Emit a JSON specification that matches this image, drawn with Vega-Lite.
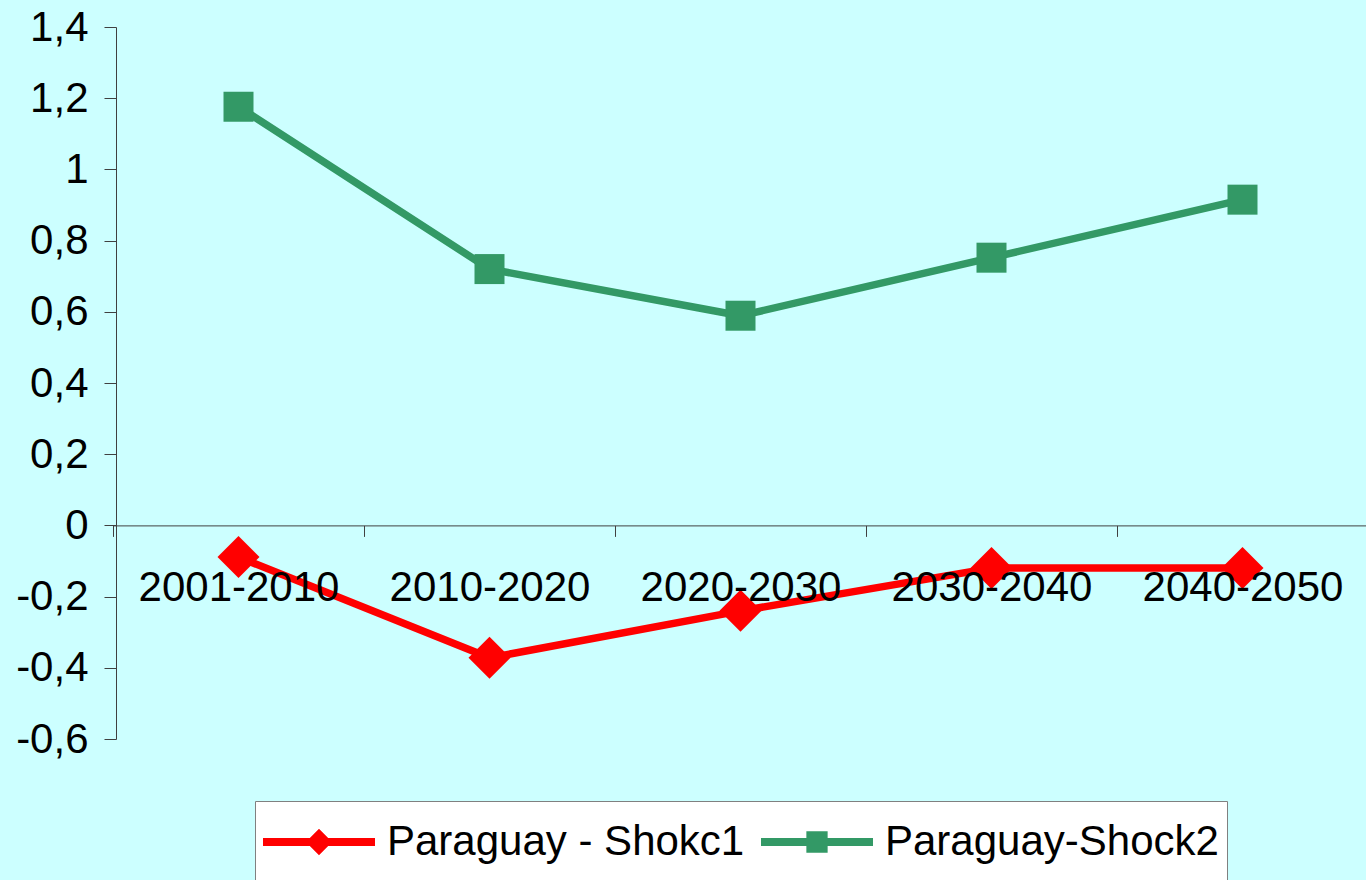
{
  "$schema": "https://vega.github.io/schema/vega-lite/v6.json",
  "autosize": {"type": "none"},
  "width": 1250,
  "height": 712,
  "padding": {"left": 116, "top": 27, "right": 0, "bottom": 141},
  "background": "#CCFFFF",
  "config": {"view": {"stroke": null}, "font": "Liberation Sans"},
  "data": {
    "values": [
      {"period": "2001-2010", "series": "Paraguay - Shokc1", "value": -0.089},
      {"period": "2010-2020", "series": "Paraguay - Shokc1", "value": -0.372},
      {"period": "2020-2030", "series": "Paraguay - Shokc1", "value": -0.24},
      {"period": "2030-2040", "series": "Paraguay - Shokc1", "value": -0.12},
      {"period": "2040-2050", "series": "Paraguay - Shokc1", "value": -0.12},
      {"period": "2001-2010", "series": "Paraguay-Shock2", "value": 1.176},
      {"period": "2010-2020", "series": "Paraguay-Shock2", "value": 0.72},
      {"period": "2020-2030", "series": "Paraguay-Shock2", "value": 0.589},
      {"period": "2030-2040", "series": "Paraguay-Shock2", "value": 0.752},
      {"period": "2040-2050", "series": "Paraguay-Shock2", "value": 0.915}
    ]
  },
  "encoding": {
    "x": {
      "field": "period",
      "type": "nominal",
      "sort": null,
      "scale": {"range": [-3, 1252], "paddingInner": 0, "paddingOuter": 0},
      "axis": {
        "title": null,
        "orient": "bottom",
        "offset": -213.6,
        "tickBand": "extent",
        "labelAngle": 0,
        "labelFont": "Liberation Sans",
        "labelFontSize": 42,
        "labelColor": "#000000",
        "labelPadding": 31,
        "labelOverlap": false,
        "labelLimit": 0,
        "tickSize": 11,
        "tickColor": "#404040",
        "domainColor": "#404040",
        "grid": false,
        "zindex": 1
      }
    },
    "y": {
      "field": "value",
      "type": "quantitative",
      "scale": {"domain": [-0.6, 1.4], "nice": false, "zero": false},
      "axis": {
        "title": null,
        "values": [-0.6, -0.4, -0.2, 0, 0.2, 0.4, 0.6, 0.8, 1, 1.2, 1.4],
        "labelExpr": "replace(replace(format(datum.value, '~g'), '.', ','), '\u2212', '-')",
        "labelFont": "Liberation Sans",
        "labelFontSize": 42,
        "labelColor": "#000000",
        "labelPadding": 16,
        "tickSize": 12,
        "tickColor": "#404040",
        "domainColor": "#404040",
        "grid": false
      }
    }
  },
  "layer": [
    {
      "transform": [{"filter": "datum.series === 'Paraguay - Shokc1'"}],
      "mark": {"type": "line", "strokeWidth": 7.5, "color": "#FF0000", "strokeJoin": "round", "strokeCap": "round"}
    },
    {
      "transform": [{"filter": "datum.series === 'Paraguay-Shock2'"}],
      "mark": {"type": "line", "strokeWidth": 7.5, "color": "#339966", "strokeJoin": "round", "strokeCap": "round"}
    },
    {
      "transform": [{"filter": "datum.series === 'Paraguay - Shokc1'"}],
      "mark": {"type": "point", "shape": "diamond", "filled": true, "size": 1764, "opacity": 1, "color": "#FF0000"}
    },
    {
      "transform": [{"filter": "datum.series === 'Paraguay-Shock2'"}],
      "mark": {"type": "point", "shape": "square", "filled": true, "size": 900, "opacity": 1, "color": "#339966"}
    },
    {
      "transform": [{"filter": "datum.series === 'none'"}],
      "mark": {"type": "point", "filled": true, "opacity": 1},
      "encoding": {
        "color": {
          "field": "series",
          "type": "nominal",
          "scale": {"domain": ["Paraguay - Shokc1", "Paraguay-Shock2"], "range": ["#FF0000", "#339966"]},
          "legend": {
            "orient": "none",
            "legendX": 139,
            "legendY": 774,
            "direction": "horizontal",
            "title": null,
            "symbolSize": 12544,
            "symbolStrokeWidth": 0,
            "symbolOpacity": 1,
            "labelFont": "Liberation Sans",
            "labelFontSize": 42,
            "labelColor": "#000000",
            "labelOffset": 12,
            "labelLimit": 0,
            "columnPadding": 16,
            "padding": 8,
            "clipHeight": 66,
            "fillColor": "#FFFFFF",
            "strokeColor": "#808080"
          }
        },
        "shape": {
          "field": "series",
          "type": "nominal",
          "scale": {
            "domain": ["Paraguay - Shokc1", "Paraguay-Shock2"],
            "range": [
              "M-1,-0.0714L-0.164,-0.0714L0,-0.235L0.164,-0.0714L1,-0.0714L1,0.0714L0.164,0.0714L0,0.235L-0.164,0.0714L-1,0.0714Z",
              "M-1,-0.0714L-0.19,-0.0714L-0.19,-0.19L0.19,-0.19L0.19,-0.0714L1,-0.0714L1,0.0714L0.19,0.0714L0.19,0.19L-0.19,0.19L-0.19,0.0714L-1,0.0714Z"
            ]
          },
          "legend": {
            "orient": "none",
            "legendX": 139,
            "legendY": 774,
            "direction": "horizontal",
            "title": null,
            "symbolSize": 12544,
            "symbolStrokeWidth": 0,
            "symbolOpacity": 1,
            "labelFont": "Liberation Sans",
            "labelFontSize": 42,
            "labelColor": "#000000",
            "labelOffset": 12,
            "labelLimit": 0,
            "columnPadding": 16,
            "padding": 8,
            "clipHeight": 66,
            "fillColor": "#FFFFFF",
            "strokeColor": "#808080"
          }
        }
      }
    }
  ]
}
